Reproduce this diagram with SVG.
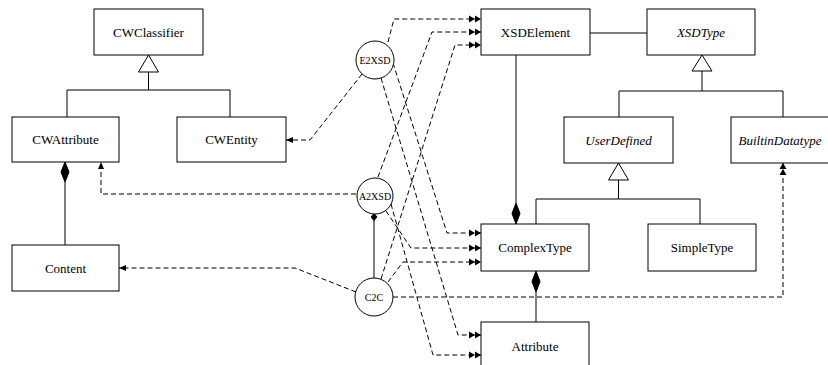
<svg xmlns="http://www.w3.org/2000/svg" width="828" height="365" viewBox="0 0 828 365">
<style>
.box{fill:#fff;stroke:#000;stroke-width:1}
.t{font-family:"Liberation Serif","Times New Roman",serif;font-size:13px;fill:#000;text-anchor:middle}
.i{font-style:italic}
.c{font-family:"Liberation Serif","Times New Roman",serif;font-size:10px;fill:#000;text-anchor:middle}
.sol{fill:none;stroke:#000;stroke-width:1}
.dash{fill:none;stroke:#000;stroke-width:1;stroke-dasharray:5,3}
.tri{fill:#fff;stroke:#000;stroke-width:1}
.dia{fill:#000;stroke:#000;stroke-width:1}
</style>
<defs>
<marker id="dbl" markerUnits="userSpaceOnUse" markerWidth="12" markerHeight="8" refX="12" refY="3.5" orient="auto" overflow="visible">
<path d="M0,0 L6,3.5 L0,7 Z M6,0 L12,3.5 L6,7 Z" fill="#000"/>
</marker>
<marker id="one" markerUnits="userSpaceOnUse" markerWidth="8" markerHeight="8" refX="7" refY="3" orient="auto" overflow="visible">
<path d="M0,0 L7,3 L0,6 Z" fill="#000"/>
</marker>
</defs>
<rect width="828" height="365" fill="#fff"/>

<g id="connectors">
<!-- CW generalization -->
<polygon class="tri" points="148.5,55 138.5,72 158.5,72"/>
<polyline class="sol" points="148.5,72 148.5,90"/>
<polyline class="sol" points="67,117 67,90 230,90 230,117"/>
<!-- CWAttribute composition Content -->
<polygon class="dia" points="65,162 69,172 65,182 61,172"/>
<line class="sol" x1="65" y1="182" x2="65" y2="245"/>
<!-- XSDElement - XSDType -->
<line class="sol" x1="590" y1="33" x2="647" y2="33"/>
<!-- XSDType generalization -->
<polygon class="tri" points="702,55 692,71 712,71"/>
<polyline class="sol" points="702,71 702,91"/>
<polyline class="sol" points="619,117 619,91 783,91 783,117"/>
<!-- UserDefined generalization -->
<polygon class="tri" points="618.5,163 608.5,180 628.5,180"/>
<polyline class="sol" points="618.5,180 618.5,199"/>
<polyline class="sol" points="536,224 536,199 700,199 700,224"/>
<!-- XSDElement composition ComplexType -->
<line class="sol" x1="516" y1="55" x2="516" y2="203"/>
<polygon class="dia" points="516,224 520,213.5 516,203 512,213.5"/>
<!-- ComplexType composition Attribute -->
<polygon class="dia" points="536,271 540,281.5 536,292 532,281.5"/>
<line class="sol" x1="536" y1="292" x2="536" y2="322"/>
<!-- A2XSD - C2C -->
<line class="sol" x1="374" y1="219" x2="374" y2="278"/>
<polygon class="dia" points="374,213.5 377,217 374,220.5 371,217"/>

<!-- E2XSD -->
<polyline class="dash" points="362,74 310,140 286,140" marker-end="url(#one)"/>
<polyline class="dash" points="388,42 394,19 481,19" marker-end="url(#dbl)"/>
<polyline class="dash" points="393,63 447,233 481,233" marker-end="url(#dbl)"/>
<polyline class="dash" points="381,78 458,335 481,335" marker-end="url(#dbl)"/>
<!-- A2XSD -->
<polyline class="dash" points="356,194 101,194 101,162" marker-end="url(#one)"/>
<polyline class="dash" points="378,177 432,32 481,32" marker-end="url(#dbl)"/>
<polyline class="dash" points="386,211 411,248 481,248" marker-end="url(#dbl)"/>
<polyline class="dash" points="391,204 433,355 481,355" marker-end="url(#dbl)"/>
<!-- C2C -->
<polyline class="dash" points="356,292 295,268 119,268" marker-end="url(#one)"/>
<polyline class="dash" points="381,279 455,45 481,45" marker-end="url(#dbl)"/>
<polyline class="dash" points="388,282 403,262 481,262" marker-end="url(#dbl)"/>
<polyline class="dash" points="393,297 783,297 783,163" marker-end="url(#dbl)"/>
</g>

<g id="CWClassifier"><rect class="box" x="94" y="9" width="109" height="46"/><text class="t" x="148.5" y="36.5">CWClassifier</text></g>
<g id="CWAttribute"><rect class="box" x="12" y="117" width="107" height="45"/><text class="t" x="65.5" y="144">CWAttribute</text></g>
<g id="CWEntity"><rect class="box" x="177" y="117" width="109" height="45"/><text class="t" x="231.5" y="144">CWEntity</text></g>
<g id="Content"><rect class="box" x="12" y="245" width="107" height="46"/><text class="t" x="65.5" y="272.5">Content</text></g>
<g id="XSDElement"><rect class="box" x="481" y="9" width="109" height="46"/><text class="t" x="535.5" y="36.5">XSDElement</text></g>
<g id="XSDType"><rect class="box" x="647" y="9" width="108" height="46"/><text class="t i" x="701" y="36.5">XSDType</text></g>
<g id="UserDefined"><rect class="box" x="564" y="117" width="109" height="46"/><text class="t i" x="618.5" y="144.5">UserDefined</text></g>
<g id="BuiltinDatatype"><rect class="box" x="731" y="117" width="104" height="46"/><text class="t i" x="780" y="144.5">BuiltinDatatype</text></g>
<g id="ComplexType"><rect class="box" x="481" y="224" width="108" height="47"/><text class="t" x="535" y="252">ComplexType</text></g>
<g id="SimpleType"><rect class="box" x="648" y="224" width="108" height="47"/><text class="t" x="702" y="252">SimpleType</text></g>
<g id="Attribute"><rect class="box" x="481" y="322" width="108" height="50"/><text class="t" x="535" y="351">Attribute</text></g>

<g id="E2XSD"><circle class="box" cx="375" cy="60" r="19"/><text class="c" x="375" y="63.5">E2XSD</text></g>
<g id="A2XSD"><circle class="box" cx="375" cy="196" r="18"/><text class="c" x="375" y="199.5">A2XSD</text></g>
<g id="C2C"><circle class="box" cx="374" cy="297" r="19"/><text class="c" x="374" y="300.5">C2C</text></g>
</svg>
